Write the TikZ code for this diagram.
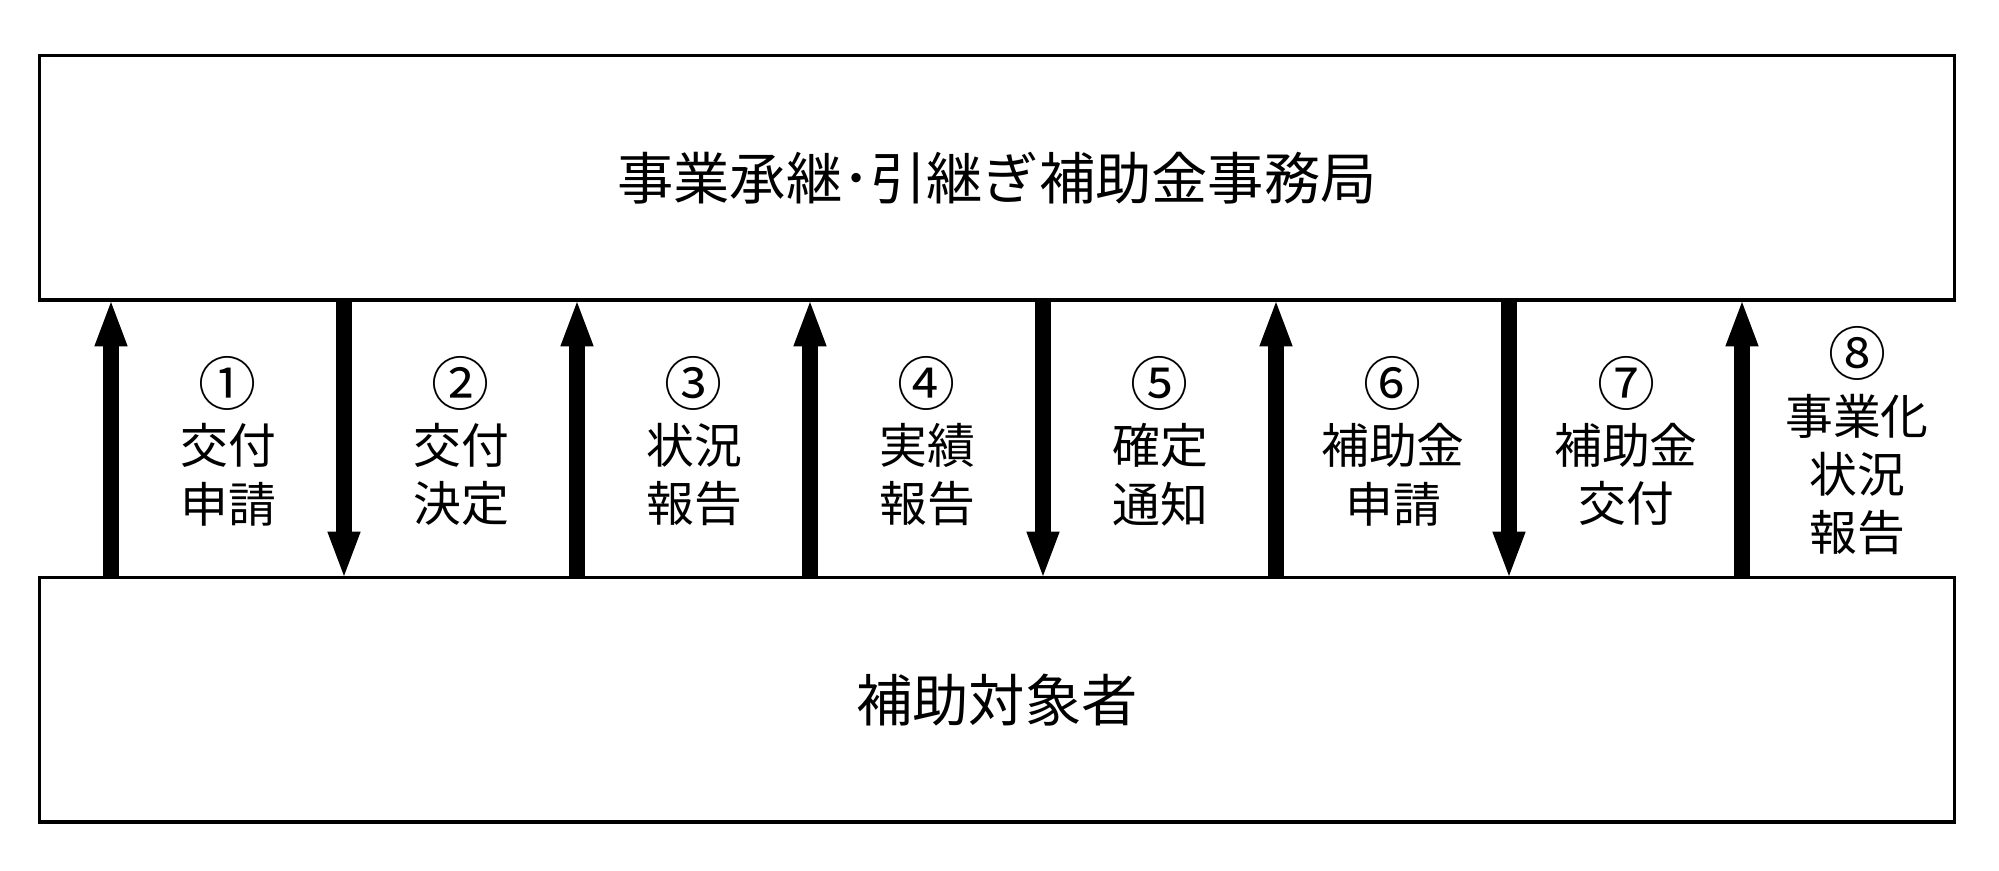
\documentclass[tikz,border=0pt]{standalone}
\usepackage{fontspec}
\setmainfont{Noto Sans CJK JP}
\usetikzlibrary{arrows.meta}
\newcommand{\cnum}[1]{{\fontsize{16.5pt}{16.6pt}\selectfont #1}}
\tikzset{
  box/.style={draw, line width=0.9pt, rectangle, inner sep=0pt, outer sep=0pt,
    minimum width=19.14cm, minimum height=2.44cm,
    font=\fontsize{16pt}{19pt}\selectfont},
  lbl/.style={align=center, inner sep=0pt,
    font=\fontsize{13.6pt}{16.6pt}\selectfont},
  flow/.style={line width=4.3pt, -{Triangle[width=0.29cm,length=0.48cm]}, shorten >=-0.5pt}
}
\begin{document}
\begin{tikzpicture}[x=0.01cm,y=-0.01cm]
\useasboundingbox (0,0) rectangle (1999,871);
\node[box] (top) at (997,178) {事業承継･引継ぎ補助金事務局};
\node[box] (bot) at (997,700) {補助対象者};
\foreach \i/\x in {1/111,2/344,3/577,4/810,5/1043,6/1276,7/1509,8/1742}
  \coordinate (a\i) at (\x,439);
% up arrows
\foreach \i in {1,3,4,6,8}
  \draw[flow] (a\i |- bot.north) -- (a\i |- top.south);
% down arrows
\foreach \i in {2,5,7}
  \draw[flow] (a\i |- top.south) -- (a\i |- bot.north);
\node[lbl] (l1) at (228,441) {\cnum{①}\\交付\\申請};
\node[lbl] (l2) at (461,441) {\cnum{②}\\交付\\決定};
\node[lbl] (l3) at (694,441) {\cnum{③}\\状況\\報告};
\node[lbl] (l4) at (927,441) {\cnum{④}\\実績\\報告};
\node[lbl] (l5) at (1160,441) {\cnum{⑤}\\確定\\通知};
\node[lbl] (l6) at (1393,441) {\cnum{⑥}\\補助金\\申請};
\node[lbl] (l7) at (1626,441) {\cnum{⑦}\\補助金\\交付};
\node[lbl] (l8) at (1857,441) {\cnum{⑧}\\事業化\\状況\\報告};
\end{tikzpicture}
\end{document}
